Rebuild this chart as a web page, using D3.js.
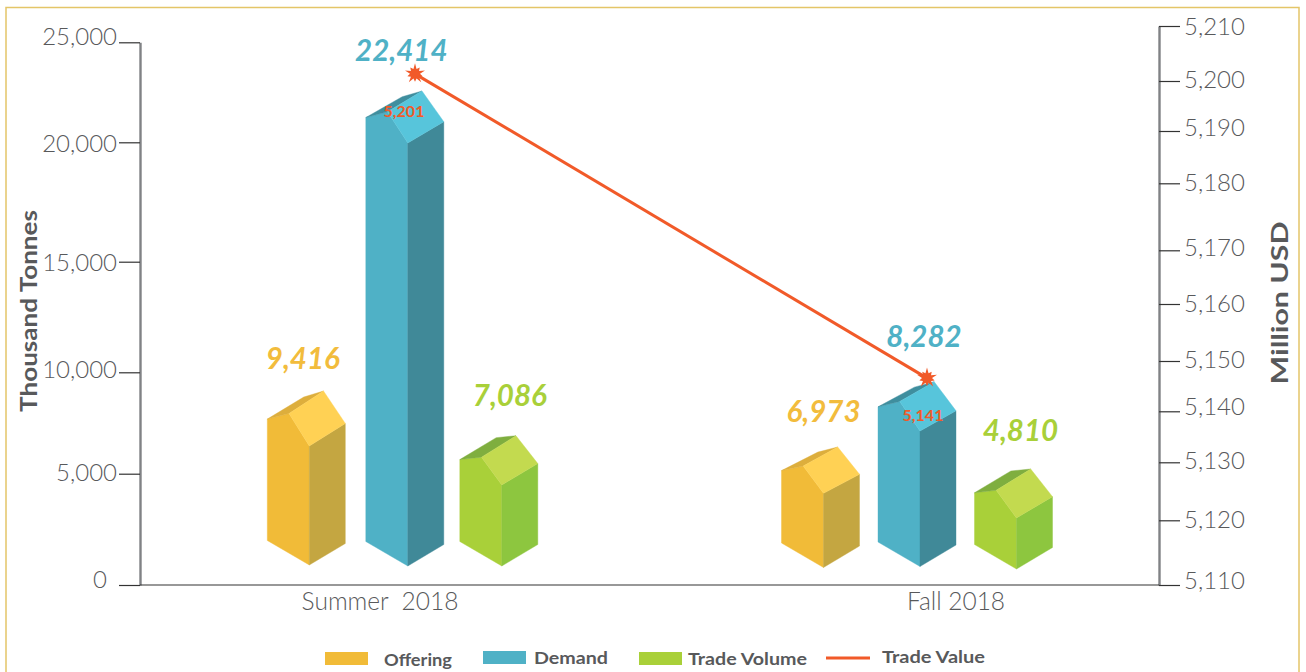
<!DOCTYPE html>
<html>
<head>
<meta charset="utf-8">
<script src="https://cdn.jsdelivr.net/npm/d3@7"></script>
<style>
html,body{margin:0;padding:0;background:#fff;overflow:hidden}
svg{display:block}
text{font-family:Lato,"Open Sans",sans-serif}
</style>
</head>
<body>
<div id="chart"></div>
<script>
// ---- values ----
const categories = ["Summer  2018", "Fall 2018"];
const seriesNames = ["Offering", "Demand", "Trade Volume"];
const offering = [9416, 6973];
const demand = [22414, 8282];
const tradeVolume = [7086, 4810];
const tradeValue = [5201, 5141];
// the picture's marks do not sit exactly at their labelled values: these are the levels as drawn, read on each axis
const offeringDrawn = [9078, 6317];
const demandDrawn = [22565, 9536];
const tradeVolumeDrawn = [6874, 5232];
const tradeValueDrawn = [5201.3, 5146.6];
const leftTicks = [0, 5000, 10000, 15000, 20000, 25000];
const rightTicks = [5110, 5120, 5130, 5140, 5150, 5160, 5170, 5180, 5190, 5200, 5210];
const legendLabels = ["Offering", "Demand", "Trade Volume", "Trade Value"];

// ---- layout and style ----
const W = 1306, H = 672;
const svg = d3.select("#chart").append("svg").attr("width", W).attr("height", H);
// the reference's tick marks are unevenly spaced, so both scales are piecewise
const yLeft = d3.scaleLinear().domain(leftTicks).range([585, 473.7, 372.3, 261.7, 142.3, 42.3]);
const yRight = d3.scaleLinear().domain(rightTicks).range([585, 520.3, 462.3, 411.3, 361, 304, 250.3, 183.3, 131, 81, 26]);
const xGroup = d3.scalePoint().domain(categories).range([405.3, 920]);
const xSeries = d3.scalePoint().domain(seriesNames).range([-96.5, 96.5]);
const colors = {
  "Offering": {front:"#F1BB38", side:"#C4A641", roof:"#FFD154", back:"#DDAE3C", text:"#F2BC3C", ratios:[.59,.41,.51,.11]},
  "Demand": {front:"#4FB1C6", side:"#408998", roof:"#57C5DB", back:"#3F8E9E", text:"#4FB1C6", ratios:[.59,.40,.51,.11]},
  "Trade Volume": {front:"#A9D039", side:"#8DC63F", roof:"#C3DA4F", back:"#7FAE3F", text:"#A9D039", ratios:[.565,.435,.485,.04]}
};
const ORANGE = "#F15A29", GREY = "#58595B", TICK = "#58595B";
const roofDepth = {"Offering":[55,46.3], "Demand":[52,49.3], "Trade Volume":[49.3,49]};
const labelPos = {"Offering":[[-6,359],[0,412]], "Demand":[[-4,51],[4,337]], "Trade Volume":[[8,396],[4,431]]};
const xNudge = {"Offering":[0.5,0], "Demand":[2.5,0], "Trade Volume":[0,0]};
const baseNudge = {"Offering":[-1,1.5], "Demand":[0,.5], "Trade Volume":[0,3]};

// frame
svg.append("rect").attr("x",6).attr("y",7.5).attr("width",1293).attr("height",H+20)
  .attr("fill","none").attr("stroke","#E4C568").attr("stroke-width",1.5);

// ---- axes ----
const leftNudge = [-5,-1,-2,1,2,-5];
const gL = svg.append("g").attr("transform","translate(140,0)")
  .call(d3.axisLeft(yLeft).tickValues(leftTicks).tickFormat(d3.format(",")).tickSize(21).tickSizeOuter(0).tickPadding(3));
const rightNudge = [-4,0,-1,-4,-1,0,-2,0,-3,-1,1];
const gR = svg.append("g").attr("transform","translate(1159,0)")
  .call(d3.axisRight(yRight).tickValues(rightTicks).tickFormat(d3.format(",")).tickSize(21).tickSizeOuter(0).tickPadding(4));
[gL,gR].forEach(g=>{
  g.select(".domain").attr("stroke","#808285").attr("stroke-width",2.4);
  g.selectAll(".tick line").attr("stroke","#333").attr("stroke-width",1.2);
  g.selectAll(".tick text").attr("fill",TICK).attr("font-size",24).attr("font-weight",300)
    .style("font-family","Lato");
});
gL.selectAll(".tick text").attr("y",(d,i)=>leftNudge[i]).attr("dy","0.32em").attr("x",-23);
gL.selectAll(".tick text").filter(d=>d===0).attr("x",-33);
gR.selectAll(".tick text").attr("y",(d,i)=>rightNudge[i]).attr("dy","0.32em");

// category axis line and labels
svg.append("line").attr("x1",140).attr("x2",1159).attr("y1",yLeft(0)).attr("y2",yLeft(0)).attr("stroke","#333").attr("stroke-width",1.2);
const catX = d3.scaleOrdinal().domain(categories).range([380,956]);
svg.selectAll(".cat").data(categories).join("text").attr("class","cat")
  .attr("x",d=>catX(d)).attr("y",610).attr("text-anchor","middle").attr("font-size",24.5).attr("font-weight",300)
  .attr("fill",TICK).attr("xml:space","preserve").style("white-space","pre").text(d=>d);

// axis titles
svg.append("text").attr("transform","translate(37,311) rotate(-90)").attr("text-anchor","middle")
  .attr("font-size",23).attr("font-weight",700).attr("fill",GREY)
  .attr("textLength",202).attr("lengthAdjust","spacingAndGlyphs").text("Thousand Tonnes");
svg.append("text").attr("transform","translate(1288,303) rotate(-90)").attr("text-anchor","middle")
  .attr("font-size",23).attr("font-weight",700).attr("fill",GREY)
  .attr("textLength",163).attr("lengthAdjust","spacingAndGlyphs").text("Million USD");

// ---- house-shaped bars ----
const rows = [
  {name:"Offering", values:offering, drawn:offeringDrawn},
  {name:"Demand", values:demand, drawn:demandDrawn},
  {name:"Trade Volume", values:tradeVolume, drawn:tradeVolumeDrawn}
].flatMap(s=>categories.map((c,i)=>({name:s.name,cat:c,i,value:s.values[i],top:yLeft(s.drawn[i])})));

const outline = d3.line();
const gBars = svg.append("g");
rows.forEach(r=>{
  const c = colors[r.name], cx = xGroup(r.cat)+xSeries(r.name)+xNudge[r.name][r.i];
  const d = roofDepth[r.name][r.i], [kR,kI,kL,kB] = c.ratios;
  const L=-42, R=36, t=r.top;
  const base = yLeft(0)-19+baseNudge[r.name][r.i];
  const P = {
    apex:[cx+14.2,t], right:[cx+R,t+d*kR], front:[cx,t+d], inner:[cx-20.3,t+d*kI],
    left:[cx+L,t+d*kL], back:[cx-5.6,t+d*kB],
    bFront:[cx,base], bLeft:[cx+L,base-24.5], bRight:[cx+R,base-21.5]
  };
  const g = gBars.append("g").attr("class","bar");
  const face = (pts,fill)=>g.append("path").attr("d",outline(pts)+"Z").attr("fill",fill)
    .attr("stroke",fill).attr("stroke-width",.4);
  face([P.left,P.inner,P.front,P.bFront,P.bLeft],c.front);
  face([P.front,P.right,P.bRight,P.bFront],c.side);
  face([P.left,P.back,P.apex,P.inner],c.back);
  face([P.inner,P.apex,P.right,P.front],c.roof);
  // value label
  const lp = labelPos[r.name][r.i];
  const gx = xGroup(r.cat)+xSeries(r.name);
  svg.append("text").attr("class","vlabel").attr("x",gx+lp[0]).attr("y",lp[1]+10)
    .attr("text-anchor","middle").attr("font-size",29.5).attr("font-weight",700).attr("font-style","italic")
    .attr("fill",c.text).text(d3.format(",")(r.value));
});

// ---- trade value line ----
const xLine = d3.scaleOrdinal().domain(categories).range([415,927]);
const lineGen = d3.line().x(d=>xLine(d.cat)).y(d=>yRight(d.level));
const linePts = categories.map((c,i)=>({cat:c,level:tradeValueDrawn[i],value:tradeValue[i]}));
svg.append("path").attr("d",lineGen(linePts)).attr("fill","none").attr("stroke",ORANGE).attr("stroke-width",3);
const star = d3.lineRadial().angle((d,i)=>i*Math.PI/10).radius((d,i)=>i%2?5:(i%4?8:10.5)).curve(d3.curveLinearClosed);
linePts.forEach(p=>{
  svg.append("path").attr("d",star(d3.range(20))).attr("fill",ORANGE)
    .attr("transform",`translate(${xLine(p.cat)},${yRight(p.level)})`);
});
const smallPos = [[404,117],[923,421]];
svg.selectAll(".small").data(linePts).join("text").attr("class","small")
  .attr("x",(d,i)=>smallPos[i][0]).attr("y",(d,i)=>smallPos[i][1]).attr("text-anchor","middle")
  .attr("font-size",16).attr("font-weight",700).attr("fill",ORANGE).text(d=>d3.format(",")(d.value));

// ---- legend ----
const lg = svg.append("g");
const legendItems = [
  {label:legendLabels[0],sx:325,sy:652,tx:384,ty:666,len:68,color:colors["Offering"].front},
  {label:legendLabels[1],sx:483,sy:651,tx:534,ty:664,len:74,color:colors["Demand"].front},
  {label:legendLabels[2],sx:639,sy:652,tx:688,ty:665,len:119,color:colors["Trade Volume"].front},
  {label:legendLabels[3],sx:826,tx:882,ty:663,len:103,color:ORANGE,line:true}
];
legendItems.forEach(d=>{
  if(d.line) lg.append("line").attr("x1",d.sx).attr("x2",d.sx+44).attr("y1",658).attr("y2",658).attr("stroke",d.color).attr("stroke-width",3);
  else lg.append("rect").attr("x",d.sx).attr("y",d.sy).attr("width",43).attr("height",13).attr("fill",d.color);
  lg.append("text").attr("x",d.tx).attr("y",d.ty).attr("font-size",17.5).attr("font-weight",700).attr("fill",GREY)
    .attr("textLength",d.len).attr("lengthAdjust","spacingAndGlyphs").text(d.label);
});
</script>
</body>
</html>
